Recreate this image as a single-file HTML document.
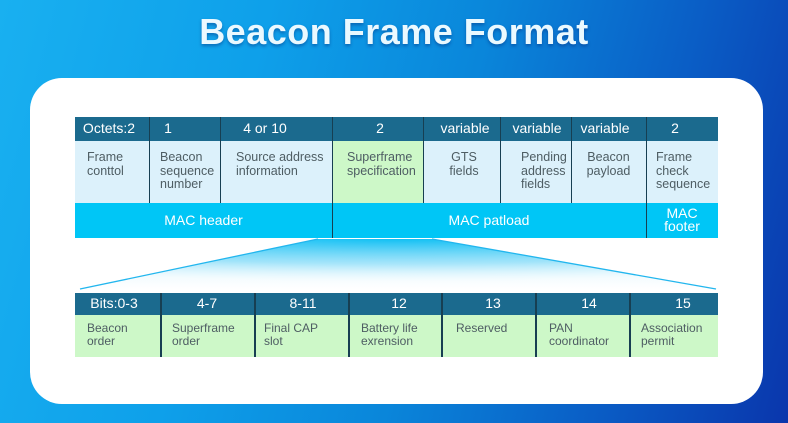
<!DOCTYPE html>
<html><head><meta charset="utf-8">
<style>
*{margin:0;padding:0;box-sizing:border-box}
html,body{width:788px;height:423px;overflow:hidden}
body{position:relative;font-family:"Liberation Sans",sans-serif;
background:linear-gradient(105deg,#19b0f0 0%,#0ea0ea 30%,#0a86da 55%,#0a5ec6 78%,#0a36ac 100%);}
.title{position:absolute;left:0;width:788px;top:11px;text-align:center;font-weight:bold;font-size:36px;color:#eaf9ff;text-shadow:0 2px 3px rgba(0,40,120,.45);letter-spacing:0.5px}
.card{position:absolute;left:30px;top:78px;width:733px;height:326px;background:#fff;border-radius:32px}
.a{position:absolute}
.t{position:absolute;font-size:12.5px;line-height:13.5px;color:#4e5d63;white-space:nowrap}
.b{position:absolute;font-size:12px;line-height:13px;color:#4e5d63;white-space:nowrap}
.h{position:absolute;font-size:14px;color:#fff;white-space:nowrap;transform:translateX(-50%)}
.m{position:absolute;font-size:14px;color:#fff;white-space:nowrap;text-align:center;line-height:13px}
.vl{position:absolute;width:1.5px;background:#173f52}
</style></head><body>
<div class="title">Beacon Frame Format</div>
<div class="card"></div>

<!-- funnel -->
<svg class="a" style="left:0;top:0" width="788" height="423">
<defs>
<linearGradient id="g" x1="0" y1="0" x2="0" y2="1">
<stop offset="0" stop-color="#12c0f4"/>
<stop offset="0.45" stop-color="#78d8f8"/>
<stop offset="1" stop-color="#ffffff" stop-opacity="0.95"/>
</linearGradient>
<radialGradient id="r" cx="0.5" cy="0" r="0.85">
<stop offset="0" stop-color="#ffffff" stop-opacity="0"/>
<stop offset="0.6" stop-color="#ffffff" stop-opacity="0.3"/>
<stop offset="1" stop-color="#ffffff" stop-opacity="0.8"/>
</radialGradient>
</defs>
<polygon points="318,239 432,239 716,289 80,289" fill="url(#g)"/>
<polygon points="318,239 432,239 716,289 80,289" fill="url(#r)"/>
<line x1="318" y1="239" x2="80" y2="289" stroke="#22b6ee" stroke-width="1.3"/>
<line x1="432" y1="239" x2="716" y2="289" stroke="#22b6ee" stroke-width="1.3"/>
</svg>

<!-- top table -->
<div class="a" style="left:75px;top:117px;width:643px;height:24px;background:#1b6a8e"></div>
<div class="a" style="left:75px;top:141px;width:643px;height:62px;background:#dcf1fb"></div>
<div class="a" style="left:332px;top:141px;width:91px;height:62px;background:#cdf8c8"></div>
<div class="a" style="left:75px;top:203px;width:643px;height:35px;background:#00c6f6"></div>
<div class="vl" style="left:148.5px;top:117px;height:86px"></div>
<div class="vl" style="left:219.5px;top:117px;height:86px"></div>
<div class="vl" style="left:331.5px;top:117px;height:121px"></div>
<div class="vl" style="left:422.5px;top:117px;height:86px"></div>
<div class="vl" style="left:499.5px;top:117px;height:86px"></div>
<div class="vl" style="left:570.5px;top:117px;height:86px"></div>
<div class="vl" style="left:645.5px;top:117px;height:121px"></div>

<div class="h" style="left:109px;top:120px">Octets:2</div>
<div class="h" style="left:168px;top:120px">1</div>
<div class="h" style="left:265px;top:120px">4 or 10</div>
<div class="h" style="left:380px;top:120px">2</div>
<div class="h" style="left:465px;top:120px">variable</div>
<div class="h" style="left:537px;top:120px">variable</div>
<div class="h" style="left:605px;top:120px">variable</div>
<div class="h" style="left:675px;top:120px">2</div>

<div class="t" style="left:87px;top:151px">Frame<br>conttol</div>
<div class="t" style="left:160px;top:151px">Beacon<br>sequence<br>number</div>
<div class="t" style="left:236px;top:151px">Source address<br>information</div>
<div class="t" style="left:347px;top:151px">Superframe<br>specification</div>
<div class="t" style="left:426px;width:76px;top:151px;text-align:center">GTS<br>fields</div>
<div class="t" style="left:521px;top:151px">Pending<br>address<br>fields</div>
<div class="t" style="left:571px;width:75px;top:151px;text-align:center">Beacon<br>payload</div>
<div class="t" style="left:656px;top:151px">Frame<br>check<br>sequence</div>

<div class="m" style="left:75px;width:257px;top:214px">MAC header</div>
<div class="m" style="left:332px;width:314px;top:214px">MAC patload</div>
<div class="m" style="left:646px;width:72px;top:207px">MAC<br>footer</div>

<!-- bottom table -->
<div class="a" style="left:75px;top:293px;width:643px;height:22px;background:#1b6a8e"></div>
<div class="a" style="left:75px;top:315px;width:643px;height:42px;background:#cdf8c8"></div>
<div class="vl" style="left:160px;top:293px;height:64px"></div>
<div class="vl" style="left:254px;top:293px;height:64px"></div>
<div class="vl" style="left:348px;top:293px;height:64px"></div>
<div class="vl" style="left:441px;top:293px;height:64px"></div>
<div class="vl" style="left:535px;top:293px;height:64px"></div>
<div class="vl" style="left:629px;top:293px;height:64px"></div>

<div class="h" style="left:114px;top:295px">Bits:0-3</div>
<div class="h" style="left:207px;top:295px">4-7</div>
<div class="h" style="left:303px;top:295px">8-11</div>
<div class="h" style="left:399px;top:295px">12</div>
<div class="h" style="left:493px;top:295px">13</div>
<div class="h" style="left:589px;top:295px">14</div>
<div class="h" style="left:683px;top:295px">15</div>

<div class="b" style="left:87px;top:322px">Beacon<br>order</div>
<div class="b" style="left:172px;top:322px">Superframe<br>order</div>
<div class="b" style="left:264px;top:322px">Final CAP<br>slot</div>
<div class="b" style="left:361px;top:322px">Battery life<br>exrension</div>
<div class="b" style="left:456px;top:322px">Reserved</div>
<div class="b" style="left:549px;top:322px">PAN<br>coordinator</div>
<div class="b" style="left:641px;top:322px">Association<br>permit</div>
</body></html>
